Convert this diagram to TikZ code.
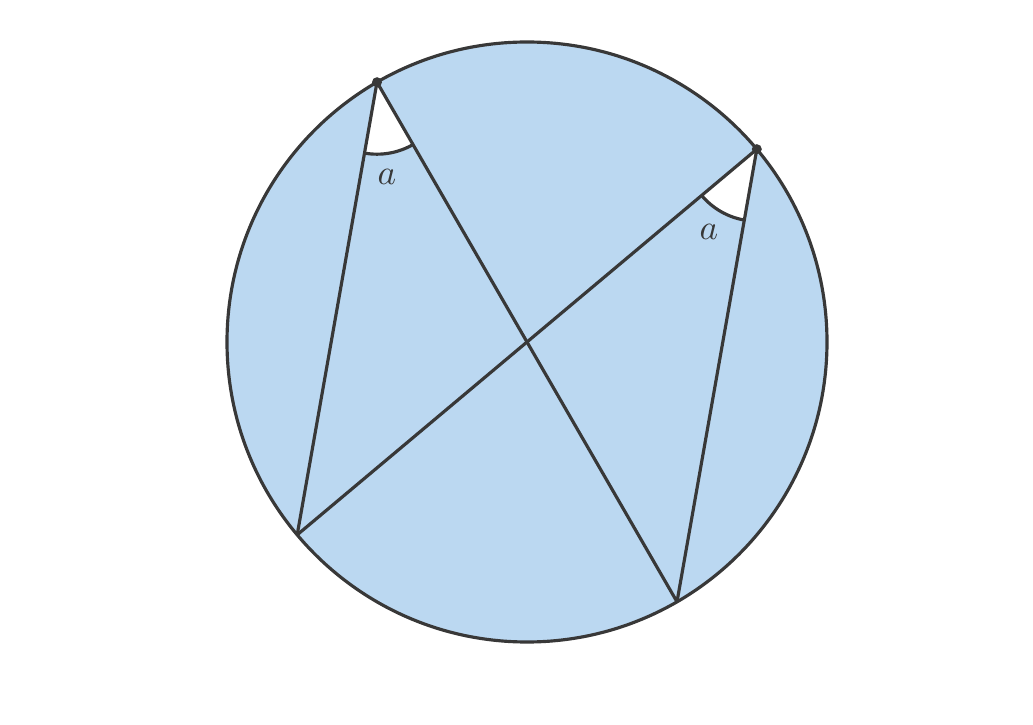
\documentclass[tikz,border=0pt]{standalone}
\usepackage{tikz}
\definecolor{discfill}{HTML}{BBD8F1}
\definecolor{inkgray}{HTML}{383838}
\tikzset{
  edge/.style={draw=inkgray,line width=0.9pt},
  anglemark/.style={draw=inkgray,line width=0.9pt},
  anglelabel/.style={text=inkgray,inner sep=0pt}
}
\begin{document}
\begin{tikzpicture}
\useasboundingbox (0,0) rectangle (10.33,7.24);
\begin{scope}[shift={(5.27,3.82)}]
\coordinate (O) at (0,0);
\coordinate (A) at (120:3);
\coordinate (B) at (40:3);
\coordinate (C) at (220:3);
\coordinate (D) at (300:3);

\fill[discfill] (O) circle (3);

% the two equal angles
\fill[white] (A) -- ++(-100:0.72) arc[start angle=-100,end angle=-60,radius=0.72] -- cycle;
\fill[white] (B) -- ++(-140:0.72) arc[start angle=-140,end angle=-100,radius=0.72] -- cycle;

\draw[edge] (A) -- (C);
\draw[edge] (A) -- (D);
\draw[edge] (B) -- (C);
\draw[edge] (B) -- (D);
\draw[edge] (O) circle (3);

\draw[anglemark] ([shift={(-100:0.72)}]A) arc[start angle=-100,end angle=-60,radius=0.72];
\draw[anglemark] ([shift={(-140:0.72)}]B) arc[start angle=-140,end angle=-100,radius=0.72];

\node[anglelabel] (la) at ([shift={(-84:0.95)}]A) {$a$};
\node[anglelabel] (lb) at ([shift={(-120:0.96)}]B) {$a$};

\fill[inkgray] (A) circle (0.05);
\fill[inkgray] (B) circle (0.05);
\end{scope}
\end{tikzpicture}
\end{document}
